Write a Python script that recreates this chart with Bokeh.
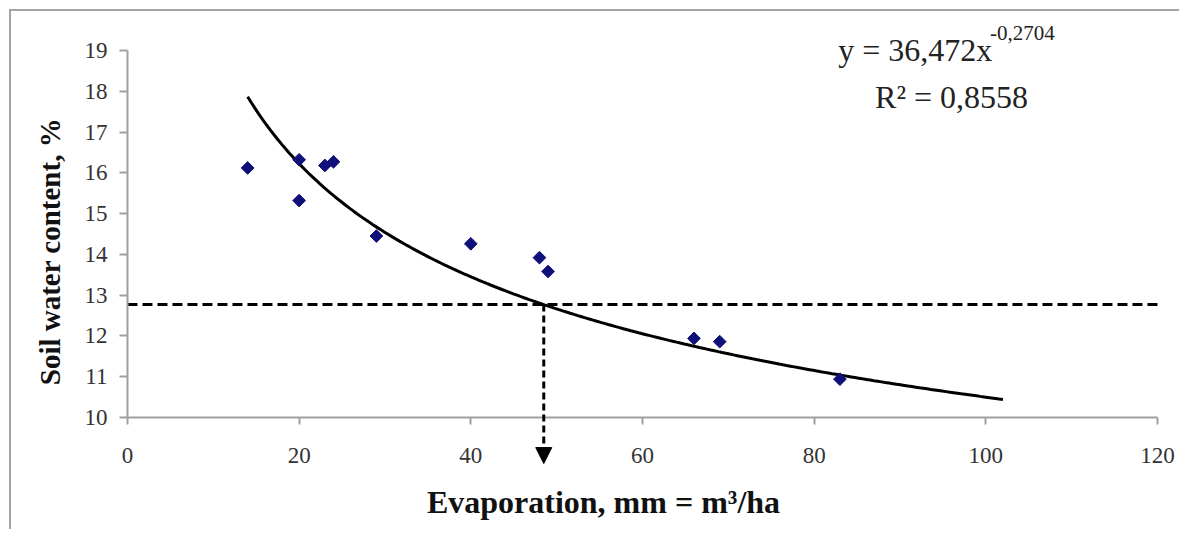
import numpy as np
from bokeh.plotting import figure
from bokeh.models import Range1d, FixedTicker, Label, Arrow, NormalHead, ColumnDataSource
from bokeh.embed import file_html
from bokeh.resources import INLINE

# ---- data ----
evaporation = [14, 20, 20, 23, 24, 29, 40, 48, 49, 66, 69, 83]
soil_water = [16.12, 16.32, 15.32, 16.18, 16.27, 14.45, 14.26, 13.92, 13.58, 11.94, 11.86, 10.94]

fit_a = 36.472
fit_b = -0.2704
fit_x_start, fit_x_end = 14, 102

threshold_y = 12.77
threshold_x = 48.5
arrow_tip_y = 8.87
hline_x = [0, 120]

x_ticks = [0, 20, 40, 60, 80, 100, 120]
y_ticks = [10, 11, 12, 13, 14, 15, 16, 17, 18, 19]
x_bounds = (0, 120)
y_bounds = (10, 19)

x_title = "Evaporation, mm = m³/ha"
y_title = "Soil water content, %"
eq_main = "y = 36,472x"
eq_exp = "-0,2704"
r2_text = "R² = 0,8558"

SERIF = "Liberation Serif"

# The plotting frame covers the whole chart so that the arrow below the x axis,
# the equation exponent and the titles are never clipped; the axes are pinned
# at x=0 / y=10 and bounded to 0-120 and 10-19.
p = figure(width=1170, height=520, output_backend="svg", toolbar_location=None,
           x_range=Range1d(-11.53, 122.45), y_range=Range1d(7.327, 19.907),
           min_border_left=17, min_border_right=3, min_border_top=2, min_border_bottom=5)
p.styles = {"margin-left": "9px", "margin-top": "9px",
            "border-left": "2px solid #a4a4a4", "border-top": "2px solid #a4a4a4"}
p.outline_line_color = None
p.xgrid.visible = False
p.ygrid.visible = False
p.background_fill_color = "white"
p.border_fill_color = "white"

for ax, ticks in ((p.xaxis[0], x_ticks), (p.yaxis[0], y_ticks)):
    ax.ticker = FixedTicker(ticks=ticks)
    ax.minor_tick_line_color = None
    ax.axis_line_color = "#a0a0a0"
    ax.axis_line_width = 2
    ax.major_tick_line_color = "#a0a0a0"
    ax.major_tick_line_width = 2
    ax.major_tick_in = 0
    ax.major_label_text_font = SERIF
    ax.major_label_text_font_size = "23px"
    ax.major_label_text_color = "#333333"

p.xaxis.bounds = x_bounds
p.yaxis.bounds = y_bounds
p.xaxis.fixed_location = y_bounds[0]
p.yaxis.fixed_location = x_bounds[0]

p.xaxis.major_tick_out = 7
p.xaxis.major_label_standoff = 24
p.yaxis.major_tick_out = 8
p.yaxis.major_label_standoff = 12

# axis titles
p.add_layout(Label(x=55.46, y=7.916, text=x_title, text_font=SERIF,
                   text_font_size="32px", text_font_style="bold", text_color="#111111",
                   text_align="center", text_baseline="middle"))
p.add_layout(Label(x=-8.97, y=14.07, text=y_title, angle=np.pi / 2, text_font=SERIF,
                   text_font_size="29px", text_font_style="bold", text_color="#111111",
                   text_align="center", text_baseline="middle"))

# trend line from the displayed equation
fx = np.linspace(fit_x_start, fit_x_end, 200)
fy = fit_a * fx ** fit_b
p.line(fx, fy, line_color="black", line_width=3)

# threshold horizontal dashed line
p.line(hline_x, [threshold_y, threshold_y], line_color="black", line_width=3, line_dash="10 5")

# vertical dashed arrow
p.add_layout(Arrow(end=NormalHead(size=16, fill_color="black", line_color="black", line_width=1),
                   x_start=threshold_x, y_start=threshold_y, x_end=threshold_x, y_end=arrow_tip_y,
                   line_color="black", line_width=3, line_dash="7 4"))

# data points
src = ColumnDataSource(dict(x=evaporation, y=soil_water))
p.scatter("x", "y", source=src, marker="square", size=9, angle=np.pi / 4,
          fill_color="#10107a", line_color="#10107a")

# equation annotation
p.add_layout(Label(x=82.8, y=19.02, text=eq_main, text_font=SERIF, text_font_size="32px",
                   text_color="#222222", text_baseline="alphabetic"))
p.add_layout(Label(x=100.5, y=19.42, text=eq_exp, text_font=SERIF, text_font_size="21px",
                   text_color="#222222", text_baseline="alphabetic"))
p.add_layout(Label(x=87.1, y=17.87, text=r2_text, text_font=SERIF, text_font_size="32px",
                   text_color="#222222", text_baseline="alphabetic"))

open("out.html", "w").write(file_html(p, INLINE))
